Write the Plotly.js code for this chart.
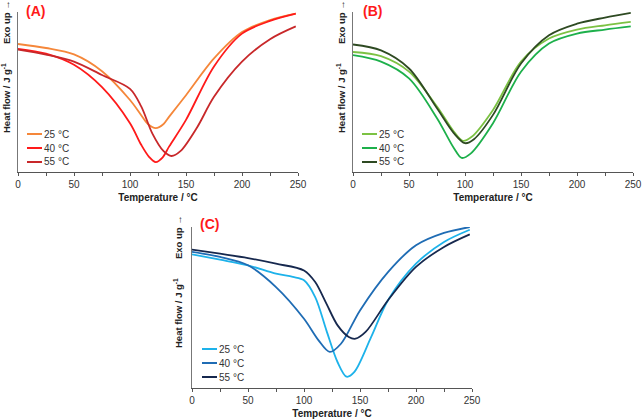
<!DOCTYPE html>
<html>
<head>
<meta charset="utf-8">
<script src="https://cdn.plot.ly/plotly-3.0.1.min.js"></script>
<style>html,body{margin:0;padding:0;background:#fff;}#chart{width:643px;height:420px;}</style>
</head>
<body>
<div id="chart"></div>
<script>
// Panel A
const tA25 = [0, 25, 50, 75, 100, 110, 116, 123, 130, 135, 150, 175, 200, 225, 248];
const yA25 = [80, 77.5, 73.5, 63, 45, 35.5, 30, 27.4, 30, 34.6, 48, 71, 87.5, 95, 99];
const tA40 = [0, 25, 50, 75, 100, 110, 117, 123, 129, 135, 150, 175, 200, 225, 248];
const yA40 = [77, 74, 67, 53, 30.5, 17, 9.5, 6.2, 9, 16, 32.6, 66, 86.5, 94.4, 99];
const tA55 = [0, 25, 50, 75, 100, 110, 120, 130, 137, 145, 160, 175, 200, 225, 248];
const yA55 = [76.5, 73.4, 69, 60.6, 52, 41, 24, 13, 10, 13, 28, 47, 69, 83, 91];
// Panel B
const tB25 = [0, 25, 50, 75, 90, 98, 106, 125, 150, 175, 200, 225, 248];
const yB25 = [75, 72.4, 62.7, 40.9, 25.3, 19.5, 22, 38.8, 69, 83.4, 89, 91.7, 93.8];
const tB40 = [0, 25, 50, 75, 90, 97, 105, 125, 150, 175, 200, 225, 248];
const yB40 = [73, 69, 58.5, 33.6, 15, 8.8, 11.5, 30.5, 62.7, 80.3, 86.5, 89, 91];
const tB55 = [0, 25, 50, 75, 90, 100, 108, 125, 150, 175, 200, 225, 248];
const yB55 = [79.7, 76, 64.7, 39.8, 24.3, 18, 20.5, 35.7, 67.8, 85.5, 92.7, 96.5, 99.4];
// Panel C
const tC25 = [0, 25, 50, 75, 90, 100, 110, 120, 130, 138, 145, 160, 175, 200, 225, 248];
const yC25 = [83, 79.7, 76.2, 71, 69, 66.9, 56.5, 35.8, 16, 7, 10, 31.7, 54.5, 77.2, 90.7, 98.3];
const tC40 = [0, 25, 50, 75, 100, 113, 123, 133, 150, 175, 200, 225, 248];
const yC40 = [84.5, 81.4, 76.2, 62.7, 43, 29.6, 22.4, 27.5, 48.2, 72, 88.6, 96.3, 100];
const tC55 = [0, 25, 50, 75, 100, 110, 120, 130, 140, 146, 155, 175, 200, 225, 248];
const yC55 = [86, 83.4, 80.7, 77.2, 73, 65.8, 52.4, 38.9, 31.7, 30.6, 34.8, 54.5, 75.2, 87.6, 95.4];

const seriesNames = ['25 °C', '40 °C', '55 °C'];
const colorsA = ['#F5873A', '#FF1A1A', '#C8282A'];
const colorsB = ['#7CC243', '#1DB04B', '#2E4A22'];
const colorsC = ['#1DB2EA', '#1F6CB4', '#16284E'];

const FONT = 'Liberation Sans, Arial, sans-serif';
const W = 643, H = 420;
function px(x) { return x / W; }
function py(y) { return 1 - y / H; }

function tr(x, y, name, color, xa, ya) {
  return {x: x, y: y, name: name, type: 'scatter', mode: 'lines', showlegend: false,
    line: {color: color, width: 1.8, shape: 'spline', smoothing: 0.9},
    xaxis: xa, yaxis: ya};
}

const data = [
  tr(tA25, yA25, seriesNames[0], colorsA[0], 'x', 'y'),
  tr(tA40, yA40, seriesNames[1], colorsA[1], 'x', 'y'),
  tr(tA55, yA55, seriesNames[2], colorsA[2], 'x', 'y'),
  tr(tB25, yB25, seriesNames[0], colorsB[0], 'x2', 'y2'),
  tr(tB40, yB40, seriesNames[1], colorsB[1], 'x2', 'y2'),
  tr(tB55, yB55, seriesNames[2], colorsB[2], 'x2', 'y2'),
  tr(tC25, yC25, seriesNames[0], colorsC[0], 'x3', 'y3'),
  tr(tC40, yC40, seriesNames[1], colorsC[1], 'x3', 'y3'),
  tr(tC55, yC55, seriesNames[2], colorsC[2], 'x3', 'y3')
];

function xax(d, anchor) {
  return {domain: d, anchor: anchor, range: [0, 250], dtick: 50, tick0: 0,
    showgrid: false, zeroline: false, showline: true, linecolor: '#555', linewidth: 1,
    ticks: 'outside', ticklen: 3, tickcolor: '#555',
    minor: {dtick: 25, ticks: 'outside', ticklen: 3, tickcolor: '#555'},
    tickfont: {family: FONT, size: 10, color: '#333'},
    title: {text: '<b>Temperature / °C</b>', font: {family: FONT, size: 10, color: '#222'}, standoff: 4},
    fixedrange: true};
}
function yax(d, anchor) {
  return {domain: d, anchor: anchor, range: [0, 100], showgrid: false, zeroline: false,
    showline: true, linecolor: '#777', linewidth: 1, ticks: '', showticklabels: false, fixedrange: true};
}

const yAB = [py(172), py(12)];
const yC = [py(388), py(227)];

const annotations = [];
const shapes = [];
function panelText(label, cx, cy, exoY, heatY, axX) {
  annotations.push({xref: 'paper', yref: 'paper', x: px(cx), y: py(cy), text: '<b>' + label + '</b>',
    showarrow: false, font: {family: FONT, size: 14, color: '#FF1A1A'}, xanchor: 'center', yanchor: 'middle'});
  annotations.push({xref: 'paper', yref: 'paper', x: px(axX), y: py(exoY), text: '<b>Exo up →</b>',
    showarrow: false, textangle: -90, font: {family: FONT, size: 9.5, color: '#222'}, xanchor: 'center', yanchor: 'middle'});
  annotations.push({xref: 'paper', yref: 'paper', x: px(axX), y: py(heatY), text: '<b>Heat flow / J g<sup>-1</sup></b>',
    showarrow: false, textangle: -90, font: {family: FONT, size: 9.5, color: '#222'}, xanchor: 'center', yanchor: 'middle'});
}
panelText('(A)', 35, 11, 22, 98, 6);
panelText('(B)', 372, 11, 22, 98, 341);
panelText('(C)', 209, 224, 237, 313, 178);

// manual legends (compact spacing like the reference)
function legend(x0, rows, colors) {
  for (let i = 0; i < seriesNames.length; i++) {
    const yy = py(rows[i]);
    shapes.push({type: 'line', xref: 'paper', yref: 'paper', x0: px(x0), x1: px(x0 + 15), y0: yy, y1: yy,
      line: {color: colors[i], width: 2}});
    annotations.push({xref: 'paper', yref: 'paper', x: px(x0 + 15), y: yy, text: seriesNames[i],
      showarrow: false, xanchor: 'left', yanchor: 'middle', font: {family: FONT, size: 10, color: '#333'}});
  }
}
legend(27, [134, 148, 162], colorsA);
legend(362, [134, 148, 162], colorsB);
legend(202, [349, 363, 377], colorsC);

const layout = {
  width: W, height: H, margin: {l: 0, r: 0, t: 0, b: 0},
  paper_bgcolor: '#fff', plot_bgcolor: 'rgba(0,0,0,0)',
  showlegend: false,
  xaxis: xax([px(18), px(298)], 'y'),
  yaxis: yax(yAB, 'x'),
  xaxis2: xax([px(353), px(633)], 'y2'),
  yaxis2: yax(yAB, 'x2'),
  xaxis3: xax([px(192), px(472)], 'y3'),
  yaxis3: yax(yC, 'x3'),
  annotations: annotations,
  shapes: shapes
};

Plotly.newPlot('chart', data, layout, {displayModeBar: false, staticPlot: true});
</script>
</body>
</html>
